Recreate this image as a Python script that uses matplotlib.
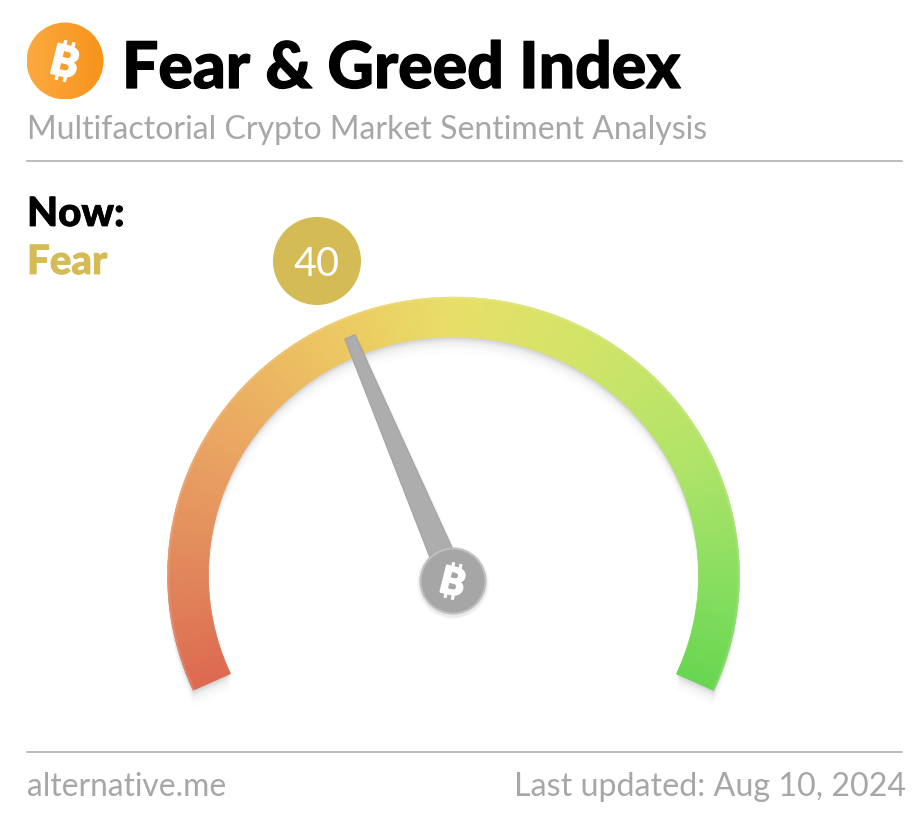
import numpy as np
import matplotlib
matplotlib.use("Agg")
import matplotlib.pyplot as plt
import matplotlib.patheffects as pe
from matplotlib.collections import PolyCollection
from matplotlib.colors import LinearSegmentedColormap
from matplotlib.patches import Circle, Polygon

plt.rcParams['font.family'] = ['Lato', 'DejaVu Sans']

title = "Fear & Greed Index"
subtitle = "Multifactorial Crypto Market Sentiment Analysis"
now_label = "Now:"
status_label = "Fear"
site = "alternative.me"
updated = "Last updated: Aug 10, 2024"

value = 40
value_min = 0
value_max = 100
# couleurs lues le long de l'arc
gauge_stops = [0.0, 0.12, 0.25, 0.4, 0.5, 0.62, 0.78, 0.9, 1.0]
gauge_colors = ["#dd6a50", "#e28a5c", "#eba862", "#eccb62", "#e8df68",
                "#d3e468", "#b0e468", "#88de60", "#68d650"]

W, H = 922, 821
CX, CY = 453.5, 575.0
R_OUT, R_IN = 286.0, 245.0
SQUASH = 0.972  # l'arc est un peu ecrase en hauteur
A_START, A_END = 204.5, -24.5

fig = plt.figure(figsize=(W / 100, H / 100), dpi=100)
ax = fig.add_axes([0, 0, 1, 1])
ax.set_xlim(0, W)
ax.set_ylim(H, 0)
ax.axis("off")


def val2angle(v):
    return A_START + (v - value_min) / (value_max - value_min) * (A_END - A_START)


def polar(r, a):
    a = np.radians(a)
    return CX + r * np.cos(a), CY - SQUASH * r * np.sin(a)


def band(a0, a1, r0, r1):
    xa, ya = polar(r0, a0)
    xb, yb = polar(r1, a0)
    xc, yc = polar(r1, a1)
    xd, yd = polar(r0, a1)
    return [(xa, ya), (xb, yb), (xc, yc), (xd, yd)]


def bold(lw, color):
    return [pe.withStroke(linewidth=lw, foreground=color)]


def bitcoin(x, y, size, color):
    # le signe n'existe dans aucune police installee : B + petites barres
    rot = np.radians(14)
    up = np.array([np.sin(rot), -np.cos(rot)])
    right = np.array([np.cos(rot), np.sin(rot)])
    h = size * 100 / 72
    c = np.array([x, y])
    foot = c - 0.36 * h * up
    ax.text(foot[0], foot[1], "B", fontsize=size, fontweight="black", color=color,
            rotation=-14, ha="center", va="baseline", rotation_mode="anchor",
            zorder=9, path_effects=bold(size * 0.05, color))
    for off in (-0.10, 0.10):
        for sgn in (-1, 1):
            p0 = c + off * h * right + sgn * 0.34 * h * up
            p1 = c + off * h * right + sgn * 0.49 * h * up
            ax.plot([p0[0], p1[0]], [p0[1], p1[1]], color=color,
                    lw=size * 0.085, solid_capstyle="butt", zorder=9)


def grad_circle(x, y, r, c0, c1):
    cmap_c = LinearSegmentedColormap.from_list("c", [c0, c1])
    g = np.linspace(0, 1, 64).reshape(1, -1)
    im = ax.imshow(g, cmap=cmap_c, extent=[x - r, x + r, y + r, y - r],
                   aspect="auto", zorder=7, interpolation="bilinear")
    im.set_clip_path(Circle((x, y), r, transform=ax.transData))
    ax.set_xlim(0, W)
    ax.set_ylim(H, 0)


# jauge : ombre puis degrade
ts = np.linspace(0, 1, 361)
angles = A_START + ts * (A_END - A_START)
arc_a = np.linspace(A_START, A_END, 200)
xo, yo = polar(R_OUT, arc_a)
xi, yi = polar(R_IN, arc_a[::-1])
for dy, alpha in [(16, 0.010), (12, 0.014), (9, 0.02), (6, 0.03), (4, 0.04), (2, 0.05)]:
    pts = np.column_stack([np.r_[xo, xi], np.r_[yo, yi] + dy])
    ax.add_patch(Polygon(pts, closed=True, fc="black", ec="none", alpha=alpha, zorder=1))

cmap = LinearSegmentedColormap.from_list("gauge", list(zip(gauge_stops, gauge_colors)))
polys = [band(angles[i], angles[i + 1] - 0.05, R_IN, R_OUT) for i in range(len(angles) - 1)]
gauge = PolyCollection(polys, facecolors=cmap(ts[:-1]), edgecolors=cmap(ts[:-1]),
                       linewidths=0.4, zorder=2)
ax.add_collection(gauge)
# reflet leger sur le bord exterieur
ax.plot(*polar(R_OUT - 1, arc_a), color="white", alpha=0.10, lw=1.5, zorder=3)

# aiguille
needle = val2angle(value)
hub_x, hub_y = 453.0, 581.0
a = np.radians(needle)
ux, uy = np.cos(a), -np.sin(a)
px, py = -uy, ux
tip_r, base_half, tip_half = 265.0, 13.0, 5.5
tip = (hub_x + tip_r * ux, hub_y + tip_r * uy)
pts = [(hub_x + base_half * px, hub_y + base_half * py),
       (tip[0] + tip_half * px, tip[1] + tip_half * py),
       (tip[0] - tip_half * px, tip[1] - tip_half * py),
       (hub_x - base_half * px, hub_y - base_half * py)]
for d, al in [(4, 0.03), (2, 0.05)]:
    ax.add_patch(Polygon([(x + d, y + d) for x, y in pts], fc="black", ec="none", alpha=al, zorder=4))
ax.add_patch(Polygon(pts, fc="#adadad", ec="#a3a3a3", lw=0.8, zorder=5))

# moyeu
for r, al in [(36, 0.03), (34.5, 0.05)]:
    ax.add_patch(Circle((hub_x, hub_y + 2), r, fc="black", ec="none", alpha=al, zorder=6))
ax.add_patch(Circle((hub_x, hub_y), 32.5, fc="#a6a6a6", ec="#c0c0c0", lw=1.5, zorder=7))
bitcoin(hub_x, hub_y, 27, "white")

# pastille valeur
ax.add_patch(Circle((317, 261), 44, fc="#d5bb55", ec="none", zorder=3))
ax.text(317, 261, str(value), fontsize=28.5, color="white", ha="center",
        va="center_baseline", zorder=4)

# logo
grad_circle(65, 61, 38.5, "#fca93f", "#f7931a")
bitcoin(65, 61, 30, "white")

# textes
ax.text(122, 88, title, fontsize=46.3, fontweight="black", color="black", va="baseline",
        path_effects=bold(0.9, "black"))
ax.text(27, 139, subtitle, fontsize=23, color="#a7a7a7", va="baseline")
ax.text(27, 226, now_label, fontsize=29, fontweight="black", color="black", va="baseline",
        path_effects=bold(0.6, "black"))
ax.text(27, 274, status_label, fontsize=29, fontweight="black", color="#d5bb55", va="baseline",
        path_effects=bold(0.6, "#d5bb55"))
ax.text(27, 796, site, fontsize=22.9, color="#a7a7a7", va="baseline")
ax.text(906, 796, updated, fontsize=23.2, color="#a7a7a7", va="baseline", ha="right")

# filets
ax.plot([27, 902], [161, 161], color="#a9a9a9", lw=1.1)
ax.plot([27, 902], [752, 752], color="#a9a9a9", lw=1.1)

fig.savefig("out.png", dpi=100)
